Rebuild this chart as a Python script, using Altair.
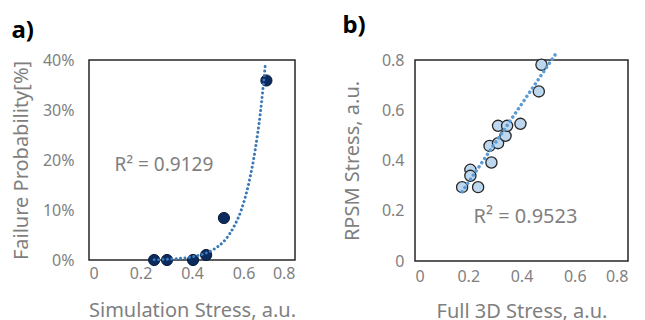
import altair as alt
import pandas as pd

FONT = "Noto Sans"
GRAY = "#7F7F7F"
EDGE = "#262626"

# ---- panel a data ----
sim_stress = [0.253, 0.303, 0.404, 0.455, 0.524, 0.689]
fail_prob = [0.0, 0.0, 0.0, 1.0, 8.4, 35.9]
# dotted trend curve
trend_a_x = [0.253, 0.30, 0.34, 0.40, 0.45, 0.485, 0.53, 0.564, 0.59, 0.618, 0.646, 0.665, 0.685]
trend_a_y = [0.05, 0.12, 0.26, 0.63, 1.3, 2.15, 4.1, 6.8, 9.8, 14.8, 22.2, 29.2, 39.2]
r2_a = "R\u00b2 = 0.9129"

# ---- panel b data ----
full3d = [0.177, 0.208, 0.208, 0.237, 0.287, 0.280, 0.312, 0.312, 0.340, 0.346, 0.396, 0.465, 0.475]
rpsm = [0.294, 0.363, 0.339, 0.294, 0.392, 0.458, 0.469, 0.538, 0.498, 0.538, 0.546, 0.675, 0.781]
# dotted linear trend line end points
trend_b_x = [0.177, 0.527]
trend_b_y = [0.276, 0.822]
r2_b = "R\u00b2 = 0.9523"

ticks_x = [0, 0.2, 0.4, 0.6, 0.8]
ticks_ya = [0, 10, 20, 30, 40]
ticks_yb = [0, 0.2, 0.4, 0.6, 0.8]

df_a = pd.DataFrame({"x": sim_stress, "y": fail_prob})
df_ta = pd.DataFrame({"x": trend_a_x, "y": trend_a_y})
df_b = pd.DataFrame({"x": full3d, "y": rpsm})
df_tb = pd.DataFrame({"x": trend_b_x, "y": trend_b_y})

ax_common = dict(grid=False, ticks=False, domain=False,
                 labelFont=FONT, labelFontSize=16, labelColor=GRAY,
                 titleFont=FONT, titleFontSize=20, titleColor=GRAY,
                 titleFontWeight="normal")


def make_panel(df_pts, df_tr, xs, ys, x_axis, y_axis, pt_kw, tr_kw, txt_df, txt_size, label, w, h):
    sx = alt.Scale(domain=xs, nice=False)
    sy = alt.Scale(domain=ys, nice=False)
    # plot-area outline
    frame = alt.Chart(pd.DataFrame({"k": [0]})).mark_rect(
        fillOpacity=0, stroke=EDGE, strokeWidth=1.5, strokeDash=[4000, 1]).encode(
        x=alt.value(0), x2=alt.value("width"), y=alt.value(0), y2=alt.value("height"))
    pts = alt.Chart(df_pts).mark_circle(**pt_kw).encode(
        x=alt.X("x:Q", scale=sx, axis=x_axis), y=alt.Y("y:Q", scale=sy, axis=y_axis))
    tr = alt.Chart(df_tr).mark_line(**tr_kw).encode(x="x:Q", y="y:Q")
    tx = alt.Chart(txt_df).mark_text(font=FONT, fontSize=txt_size, color=GRAY).encode(
        x="x:Q", y="y:Q", text="t:N")
    return alt.layer(frame, pts, tr, tx).properties(
        width=w, height=h,
        title=alt.TitleParams(label, anchor="start", font=FONT, fontSize=24,
                              fontWeight="bold", color="black", offset=9))


panel_a = make_panel(
    df_a, df_ta, [0, 0.8], [0, 40],
    alt.Axis(values=ticks_x, format=".1~f", title="Simulation Stress, a.u.",
             labelPadding=5, titlePadding=19, **ax_common),
    alt.Axis(values=ticks_ya, labelExpr="datum.value + '%'", title="Failure Probability[%]",
             labelPadding=15, titlePadding=11, **ax_common),
    dict(size=125, color="#0B2A5E", opacity=1, stroke="#061A3A", strokeWidth=1),
    dict(color="#3A78B8", strokeWidth=3, strokeDash=[0.01, 4.4], strokeCap="round",
         interpolate="monotone"),
    pd.DataFrame({"x": [0.291], "y": [19], "t": [r2_a]}), 19, "a)", 206, 200)

panel_b = make_panel(
    df_b, df_tb, [0, 0.8], [0, 0.8],
    alt.Axis(values=ticks_x, format=".1~f", title="Full 3D Stress, a.u.",
             labelPadding=7, titlePadding=17, **ax_common),
    alt.Axis(values=ticks_yb, format=".1~f", title="RPSM Stress, a.u.",
             labelPadding=11, titlePadding=19, **ax_common),
    dict(size=125, color="#BDD7EE", opacity=1, stroke=EDGE, strokeWidth=1.3),
    dict(color="#5B9BD5", strokeWidth=3.5, strokeDash=[0.01, 5], strokeCap="round"),
    pd.DataFrame({"x": [0.415], "y": [0.176], "t": [r2_b]}), 20, "b)", 213, 201)

chart = alt.hconcat(panel_a, panel_b, spacing=46).properties(
    padding={"left": 3, "top": 6, "right": 0, "bottom": 0}
).configure(background="white", view=alt.ViewConfig(strokeWidth=0))

chart.save("out.html", embed_options={"renderer": "svg", "actions": False})
